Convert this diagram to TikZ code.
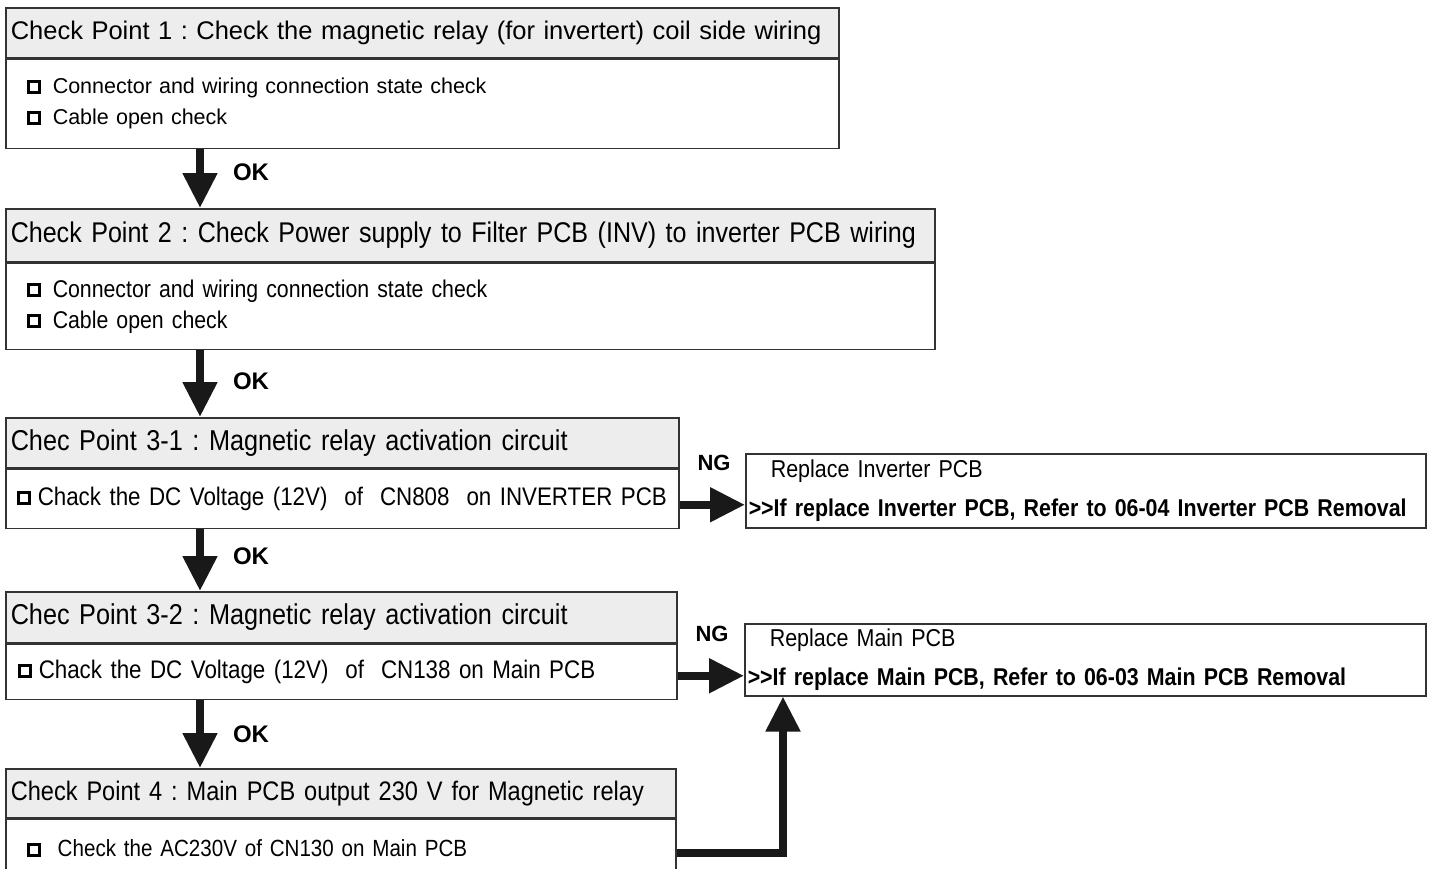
\documentclass[tikz,border=0pt]{standalone}
\usepackage{fontspec}
\setmainfont{Liberation Sans}
\newfontfamily\narrowfont{Liberation Sans}[FakeStretch=0.88]
\usetikzlibrary{arrows.meta, positioning}
\frenchspacing

\newcommand{\chkbox}{\tikz[baseline=0pt]{\draw[black, line width=3pt] (1.5pt,1.5pt) rectangle (12.5pt,12.5pt);
  \path (0pt,0pt) (14pt,14pt);}}

\tikzset{
  titlebox/.style={draw=black!80, line width=1.5pt, fill=black!7, anchor=north west,
    minimum height=50pt, inner xsep=5pt, inner ysep=0pt, align=left,
    font=\narrowfont\fontsize{28.7}{32}\selectfont},
  bodybox/.style={draw=black!80, line width=1.5pt, anchor=north west, inner xsep=22pt,
    inner ysep=0pt, align=left, font=\narrowfont\fontsize{24.2}{31}\selectfont},
  ngbox/.style={draw=black!80, line width=1.5pt, anchor=north west, inner xsep=3pt,
    inner ysep=0pt, align=left, font=\narrowfont\fontsize{24.4}{39}\selectfont},
  oklabel/.style={font=\bfseries\fontsize{24}{24}\selectfont, inner sep=0pt},
  bigarrow/.style={line width=8pt, black!90, -{Triangle[width=33pt,length=35pt]}}
}

\begin{document}
\begin{tikzpicture}[x=1pt, y=-1pt]
  \useasboundingbox (0,0) rectangle (1429,868);

  % check point 1
  \node[titlebox, text width=823pt, font=\fontsize{25.5}{30}\selectfont] (t1) at (5,7)
    {Check Point 1 : Check the magnetic relay (for invertert) coil side wiring};
  \node[bodybox, inner xsep=21pt, text width=791pt, minimum height=89pt,
    font=\fontsize{21.5}{31}\selectfont] (b1) at (t1.south west)
    {\chkbox\hspace{12pt}Connector and wiring connection state check\\
     \chkbox\hspace{12pt}Cable open check};

  % check point 2
  \node[titlebox, text width=919pt, minimum height=53pt,
    font=\narrowfont\fontsize{28.5}{32}\selectfont] (t2) at (5,208)
    {Check Point 2 : Check Power supply to Filter PCB (INV) to inverter PCB wiring};
  \node[bodybox, inner xsep=21pt, text width=887pt, minimum height=86pt] (b2) at (t2.south west)
    {\chkbox\hspace{12pt}Connector and wiring connection state check\\
     \chkbox\hspace{12pt}Cable open check};

  % check point 3-1
  \node[titlebox, text width=663pt] (t31) at (5,417)
    {Chec Point 3-1 : Magnetic relay activation circuit};
  \node[bodybox, inner xsep=11pt, text width=651pt, minimum height=59pt,
    font=\narrowfont\fontsize{25.4}{30}\selectfont] (b31) at (t31.south west)
    {\chkbox\hspace{7pt}Chack the DC Voltage (12V)\ \ of\ \ CN808\ \ on INVERTER PCB};

  % check point 3-2
  \node[titlebox, text width=661pt, minimum height=51pt] (t32) at (5,591)
    {Chec Point 3-2 : Magnetic relay activation circuit};
  \node[bodybox, inner xsep=12pt, text width=647pt, minimum height=55pt,
    font=\narrowfont\fontsize{25.4}{30}\selectfont] (b32) at (t32.south west)
    {\chkbox\hspace{7pt}Chack the DC Voltage (12V)\ \ of\ \ CN138 on Main PCB};

  % check point 4
  \node[titlebox, text width=660pt, minimum height=49pt,
    font=\narrowfont\fontsize{26.8}{30}\selectfont] (t4) at (5,768)
    {Check Point 4 : Main PCB output 230 V for Magnetic relay};
  \node[bodybox, inner xsep=21pt, text width=628pt, minimum height=58pt,
    font=\narrowfont\fontsize{23.4}{28}\selectfont] (b4) at (t4.south west)
    {\chkbox\hspace{17pt}Check the AC230V of CN130 on Main PCB};

  % results
  \node[ngbox, text width=674pt, minimum height=74pt] (n1) at (745,453)
    {\hspace*{22pt}Replace Inverter PCB\\
     \textbf{\fontsize{24.3}{39}\selectfont >{}>If replace Inverter PCB, Refer to 06-04 Inverter PCB Removal}};
  \node[ngbox, text width=675pt, minimum height=72pt] (n2) at (744,623)
    {\hspace*{22pt}Replace Main PCB\\
     \textbf{\fontsize{24.3}{39}\selectfont >{}>If replace Main PCB, Refer to 06-03 Main PCB Removal}};

  % labels
  \node[oklabel] (ok1) at (251,172) {OK};
  \node[oklabel] (ok2) at (251,381) {OK};
  \node[oklabel] (ok3) at (251,556) {OK};
  \node[oklabel] (ok4) at (251,734) {OK};
  \node[oklabel, font=\bfseries\fontsize{22}{22}\selectfont] (ng1) at (714,463) {NG};
  \node[oklabel, font=\bfseries\fontsize{22}{22}\selectfont] (ng2) at (712,634) {NG};

  % arrows
  \coordinate (okx) at (200,0);
  \coordinate (upx) at (783,0);
  \draw[bigarrow] (okx |- b1.south) -- (okx |- t2.north);
  \draw[bigarrow] (okx |- b2.south) -- (okx |- t31.north);
  \draw[bigarrow] (okx |- b31.south) -- (okx |- t32.north);
  \draw[bigarrow] (okx |- b32.south) -- (okx |- t4.north);
  \draw[bigarrow] ([yshift=-6pt]b31.east) -- ([yshift=-6pt]b31.east -| n1.west);
  \draw[bigarrow] ([yshift=-4pt]b32.east) -- ([yshift=-4pt]b32.east -| n2.west);
  \draw[bigarrow] ([yshift=-5pt]b4.east) -| (upx |- n2.south);
\end{tikzpicture}
\end{document}
